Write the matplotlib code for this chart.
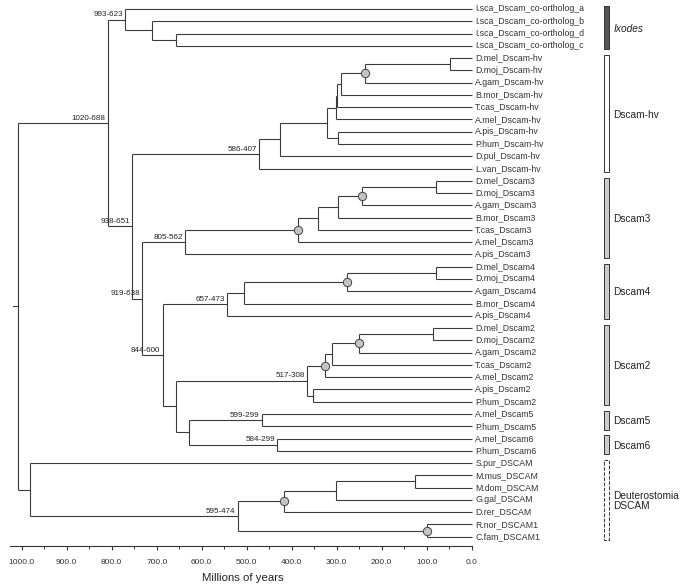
import numpy as np
import matplotlib
matplotlib.use('Agg')
import matplotlib.pyplot as plt
from matplotlib.patches import Rectangle

plt.rcParams['font.family'] = ['Liberation Sans', 'DejaVu Sans']

# leaf labels, top to bottom
leaves = [
    'I.sca_Dscam_co-ortholog_a', 'I.sca_Dscam_co-ortholog_b',
    'I.sca_Dscam_co-ortholog_d', 'I.sca_Dscam_co-ortholog_c',
    'D.mel_Dscam-hv', 'D.moj_Dscam-hv', 'A.gam_Dscam-hv', 'B.mor_Dscam-hv',
    'T.cas_Dscam-hv', 'A.mel_Dscam-hv', 'A.pis_Dscam-hv', 'P.hum_Dscam-hv',
    'D.pul_Dscam-hv', 'L.van_Dscam-hv',
    'D.mel_Dscam3', 'D.moj_Dscam3', 'A.gam_Dscam3', 'B.mor_Dscam3',
    'T.cas_Dscam3', 'A.mel_Dscam3', 'A.pis_Dscam3',
    'D.mel_Dscam4', 'D.moj_Dscam4', 'A.gam_Dscam4', 'B.mor_Dscam4', 'A.pis_Dscam4',
    'D.mel_Dscam2', 'D.moj_Dscam2', 'A.gam_Dscam2', 'T.cas_Dscam2',
    'A.mel_Dscam2', 'A.pis_Dscam2', 'P.hum_Dscam2',
    'A.mel_Dscam5', 'P.hum_Dscam5', 'A.mel_Dscam6', 'P.hum_Dscam6',
    'S.pur_DSCAM', 'M.mus_DSCAM', 'M.dom_DSCAM', 'G.gal_DSCAM', 'D.rer_DSCAM',
    'R.nor_DSCAM1', 'C.fam_DSCAM1',
]

# internal nodes: name -> (age in My, children top to bottom)
tree_nodes = {
    'root': (1008, ['n1020', 'deut']),
    'n1020': (809, ['ixo1', 'n938']),
    'ixo1': (770, ['I.sca_Dscam_co-ortholog_a', 'ixo2']),
    'ixo2': (711, ['I.sca_Dscam_co-ortholog_b', 'ixo3']),
    'ixo3': (656, ['I.sca_Dscam_co-ortholog_d', 'I.sca_Dscam_co-ortholog_c']),
    'n938': (754, ['hv1', 'n919']),
    'hv1': (472, ['hv2', 'L.van_Dscam-hv']),
    'hv2': (426, ['hv3', 'D.pul_Dscam-hv']),
    'hv3': (322, ['hv4', 'hv_ap']),
    'hv_ap': (296, ['A.pis_Dscam-hv', 'P.hum_Dscam-hv']),
    'hv4': (302, ['hv5', 'A.mel_Dscam-hv']),
    'hv5': (299, ['hv6', 'T.cas_Dscam-hv']),
    'hv6': (290, ['hv7', 'B.mor_Dscam-hv']),
    'hv7': (237, ['hv8', 'A.gam_Dscam-hv']),
    'hv8': (48, ['D.mel_Dscam-hv', 'D.moj_Dscam-hv']),
    'n919': (733, ['d3a', 'n844']),
    'd3a': (637, ['d3b', 'A.pis_Dscam3']),
    'd3b': (385, ['d3c', 'A.mel_Dscam3']),
    'd3c': (342, ['d3d', 'T.cas_Dscam3']),
    'd3d': (298, ['d3e', 'B.mor_Dscam3']),
    'd3e': (243, ['d3f', 'A.gam_Dscam3']),
    'd3f': (80, ['D.mel_Dscam3', 'D.moj_Dscam3']),
    'n844': (687, ['d4a', 'n658']),
    'd4a': (543, ['d4b', 'A.pis_Dscam4']),
    'd4b': (506, ['d4c', 'B.mor_Dscam4']),
    'd4c': (276, ['d4d', 'A.gam_Dscam4']),
    'd4d': (79, ['D.mel_Dscam4', 'D.moj_Dscam4']),
    'n658': (658, ['d2a', 'n628']),
    'd2a': (365, ['d2b', 'd2_ap']),
    'd2_ap': (352, ['A.pis_Dscam2', 'P.hum_Dscam2']),
    'd2b': (326, ['d2c', 'A.mel_Dscam2']),
    'd2c': (310, ['d2d', 'T.cas_Dscam2']),
    'd2d': (250, ['d2e', 'A.gam_Dscam2']),
    'd2e': (87, ['D.mel_Dscam2', 'D.moj_Dscam2']),
    'n628': (628, ['d5', 'd6']),
    'd5': (467, ['A.mel_Dscam5', 'P.hum_Dscam5']),
    'd6': (432, ['A.mel_Dscam6', 'P.hum_Dscam6']),
    'deut': (982, ['S.pur_DSCAM', 'dt1']),
    'dt1': (520, ['dt2', 'dt_rc']),
    'dt2': (416, ['dt3', 'D.rer_DSCAM']),
    'dt3': (302, ['dt4', 'G.gal_DSCAM']),
    'dt4': (126, ['M.mus_DSCAM', 'M.dom_DSCAM']),
    'dt_rc': (100, ['R.nor_DSCAM1', 'C.fam_DSCAM1']),
}
root_stem = 1019

node_labels = {
    'ixo1': '993-623', 'n1020': '1020-688', 'n938': '938-651', 'hv1': '586-407',
    'n919': '919-638', 'd3a': '805-562', 'n844': '844-600', 'd4a': '657-473',
    'd2a': '517-308', 'd5': '599-299', 'd6': '584-299', 'dt1': '595-474',
}
circle_nodes = ['hv7', 'd3e', 'd3b', 'd4c', 'd2d', 'd2b', 'dt2', 'dt_rc']

# clade bars
clade_names = ['Ixodes', 'Dscam-hv', 'Dscam3', 'Dscam4', 'Dscam2', 'Dscam5', 'Dscam6',
               'Deuterostomia\nDSCAM']
clade_first = [0, 4, 14, 21, 26, 33, 35, 37]
clade_last = [3, 13, 20, 25, 32, 34, 36, 43]
clade_fill = ['#555555', 'white', '#cccccc', '#cccccc', '#cccccc', '#cccccc', '#cccccc', 'white']
clade_style = ['-', '-', '-', '-', '-', '-', '-', '--']

line_col = '#3a3a3a'

# positions
ypos = {name: i for i, name in enumerate(leaves)}
age = {name: 0.0 for name in leaves}


def place(node):
    if node in ypos:
        return ypos[node]
    t, kids = tree_nodes[node]
    ys = [place(k) for k in kids]
    ypos[node] = (ys[0] + ys[-1]) / 2
    age[node] = t
    return ypos[node]


place('root')

fig = plt.figure(figsize=(6.85, 5.87), dpi=100)
ax = fig.add_axes([0, 41 / 587, 1, 546 / 587])

for node, (t, kids) in tree_nodes.items():
    ax.plot([t, t], [ypos[kids[0]], ypos[kids[-1]]], color=line_col, lw=0.8,
            solid_capstyle='butt')
    for k in kids:
        ax.plot([t, age[k]], [ypos[k], ypos[k]], color=line_col, lw=0.8,
                solid_capstyle='butt')
ax.plot([root_stem, age['root']], [ypos['root'], ypos['root']], color=line_col, lw=0.8)

for node in circle_nodes:
    ax.plot(age[node], ypos[node], 'o', ms=6, mfc='#c4c4c4', mec='#444444', mew=0.7,
            zorder=5)

for node, lab in node_labels.items():
    ax.annotate(lab, xy=(age[node], ypos[node]), xytext=(-1.5, 1.0),
                textcoords='offset points', ha='right', va='bottom',
                fontsize=5.8, color='#222222')

for name in leaves:
    ax.text(-8, ypos[name], name, fontsize=6.3, color='#333333',
            ha='left', va='center')

for name, a, b, fc, ls in zip(clade_names, clade_first, clade_last, clade_fill, clade_style):
    ax.add_patch(Rectangle((-295, a - 0.25), -10.5, b - a + 0.55, facecolor=fc,
                           edgecolor='#333333', lw=0.7, ls=ls))
    ax.text(-314.5, (a + b) / 2 + 0.1, name, fontsize=7.3, color='#222222',
            ha='left', va='center', linespacing=1.1,
            style='italic' if name == 'Ixodes' else 'normal')

ax.set_xlim(1048.2, -474)
ax.set_ylim(43.76, -0.733)

for s in ['top', 'left', 'right']:
    ax.spines[s].set_visible(False)
ax.spines['bottom'].set_bounds(0, 1026)
ax.spines['bottom'].set_color('#333333')
ax.spines['bottom'].set_linewidth(0.8)
ax.set_yticks([])
ax.set_xticks(np.arange(0, 1001, 100))
ax.set_xticks(np.arange(50, 1000, 100), minor=True)
ax.set_xticklabels(['%.1f' % v for v in np.arange(0, 1001, 100)])
ax.tick_params(axis='x', which='major', length=3, width=0.8, color='#333333',
               labelsize=6, labelcolor='#333333', pad=6)
ax.tick_params(axis='x', which='minor', length=2, width=0.7, color='#333333')
ax.set_xlabel('Millions of years', fontsize=8.2, color='#222222', labelpad=4)
ax.xaxis.set_label_coords(243 / 685, -27 / 546)

fig.savefig('out.png', dpi=100)
